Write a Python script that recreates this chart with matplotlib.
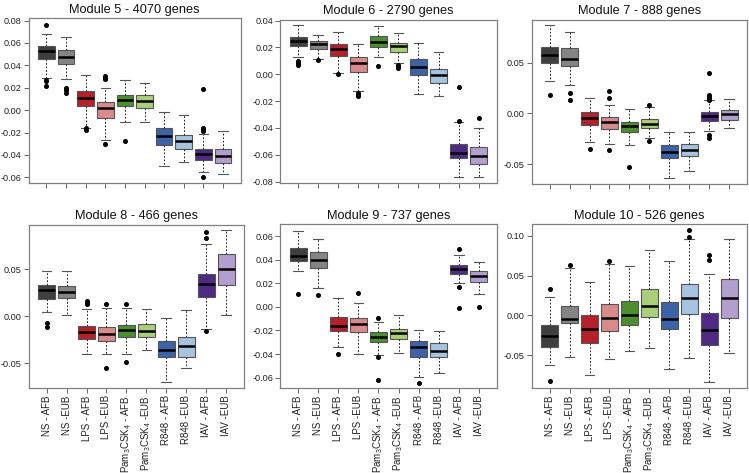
import matplotlib
matplotlib.use("Agg")
import matplotlib.pyplot as plt
from matplotlib.ticker import FuncFormatter

plt.rcParams['font.family'] = ['Liberation Sans', 'DejaVu Sans']
plt.rcParams['mathtext.default'] = 'regular'

labels = ["NS - AFB", "NS -EUB", "LPS - AFB", "LPS -EUB",
          r"Pam$_3$CSK$_4$ - AFB", r"Pam$_3$CSK$_4$ -EUB",
          "R848 - AFB", "R848 -EUB", "IAV - AFB", "IAV -EUB"]
colors = ["#3f3f3f", "#858585", "#b5202a", "#d98a8a", "#4b8f2f",
          "#a9cf7b", "#3c62a8", "#a6c3e0", "#4e2a84", "#b39fcf"]

titles = ["Module 5 - 4070 genes", "Module 6 - 2790 genes", "Module 7 - 888 genes",
          "Module 8 - 466 genes", "Module 9 - 737 genes", "Module 10 - 526 genes"]

# (whislo, q1, med, q3, whishi) per condition
m5_stats = [(0.0287, 0.0457, 0.0528, 0.0576, 0.0684), (0.0278, 0.041, 0.047, 0.054, 0.0654),
            (-0.0158, 0.0039, 0.0107, 0.0173, 0.0316), (-0.0269, -0.0069, 0.0015, 0.0069, 0.020),
            (-0.0104, 0.0033, 0.0093, 0.0137, 0.0269), (-0.0104, 0.0021, 0.0084, 0.0137, 0.0245),
            (-0.0498, -0.0307, -0.0227, -0.0161, -0.0018), (-0.0463, -0.0346, -0.0278, -0.0218, -0.0048),
            (-0.0549, -0.0445, -0.0391, -0.0346, -0.0212), (-0.0567, -0.0472, -0.0409, -0.0346, -0.0188)]
m5_fliers = [[0.0758, 0.027, 0.026, 0.0218], [0.0194, 0.018, 0.0155], [-0.0164, -0.0176],
             [0.0301, 0.029, 0.0278, -0.030], [-0.0275], [], [], [],
             [0.0191, -0.0161, -0.0173, -0.0182, -0.060], []]

m6_stats = [(0.0125, 0.0209, 0.0249, 0.0279, 0.0367), (0.011, 0.019, 0.0224, 0.0247, 0.0292),
            (0.001, 0.0135, 0.019, 0.0224, 0.0317), (-0.0125, 0.002, 0.008, 0.013, 0.0224),
            (0.013, 0.0204, 0.0242, 0.0284, 0.0359), (0.0087, 0.0167, 0.021, 0.0234, 0.0304),
            (-0.0147, -0.0005, 0.0052, 0.011, 0.0234), (-0.0162, -0.0065, -0.0002, 0.004, 0.0162),
            (-0.0768, -0.0626, -0.0584, -0.0519, -0.0354), (-0.0768, -0.0671, -0.0608, -0.0541, -0.0399)]
m6_fliers = [[0.0095, 0.0085, 0.0072], [0.0105], [0.0], [-0.0137, -0.0152, -0.0165], [0.0065],
             [0.0072, 0.006, 0.0045], [], [], [-0.0097, -0.0352], [-0.0324]]

m7_stats = [(0.0319, 0.050, 0.0572, 0.0648, 0.0865), (0.0276, 0.0464, 0.053, 0.0638, 0.0799),
            (-0.0286, -0.0115, -0.0049, 0.001, 0.0151), (-0.0299, -0.0155, -0.0089, -0.0039, 0.0079),
            (-0.0309, -0.0181, -0.0128, -0.0086, 0.0043), (-0.0243, -0.0145, -0.0102, -0.0056, 0.0066),
            (-0.0638, -0.0438, -0.0375, -0.0306, -0.0178), (-0.0569, -0.0418, -0.0359, -0.0303, -0.0178),
            (-0.0171, -0.0076, -0.0023, 0.001, 0.0128), (-0.0145, -0.0063, -0.0003, 0.0036, 0.0138)]
m7_fliers = [[0.0178], [0.0197, 0.0135], [-0.0352], [0.022, 0.0148, -0.0355], [-0.0523],
             [0.0082, -0.0276], [], [], [0.0398, 0.0178, 0.0161, 0.0145, 0.0135, -0.0214, -0.0237], []]

m8_stats = [(0.0046, 0.0181, 0.028, 0.0333, 0.0479), (0.0014, 0.0191, 0.0262, 0.0326, 0.0479),
            (-0.0401, -0.0245, -0.0163, -0.0099, 0.0082), (-0.0401, -0.0259, -0.0188, -0.011, 0.0085),
            (-0.0401, -0.0216, -0.0145, -0.0089, 0.0092), (-0.0358, -0.0216, -0.0152, -0.0078, 0.0074),
            (-0.0702, -0.0436, -0.0358, -0.0262, -0.0018), (-0.0553, -0.0436, -0.0319, -0.0223, 0.0071),
            (-0.0135, 0.0209, 0.034, 0.0447, 0.0769), (0.0014, 0.033, 0.050, 0.066, 0.0912)]
m8_fliers = [[-0.0074, -0.011], [], [0.016, 0.0145, 0.0131], [0.0131, -0.0546], [0.0131, -0.0482],
             [], [], [], [0.0897, 0.0833, -0.0152], []]

m9_stats = [(0.0301, 0.0385, 0.0429, 0.0501, 0.0645), (0.016, 0.033, 0.0397, 0.0468, 0.0572),
            (-0.0338, -0.0206, -0.0158, -0.0082, 0.0073), (-0.040, -0.0214, -0.0149, -0.009, 0.0037),
            (-0.0411, -0.0296, -0.0254, -0.0217, -0.0127), (-0.0394, -0.0273, -0.0225, -0.0186, -0.0065),
            (-0.0594, -0.0428, -0.0338, -0.029, -0.0192), (-0.0563, -0.0428, -0.0372, -0.0304, -0.0206),
            (0.020, 0.0282, 0.0324, 0.0355, 0.0437), (0.011, 0.0211, 0.0265, 0.0307, 0.0377)]
m9_fliers = [[0.0113], [0.0099], [-0.040], [0.0118], [-0.0096, -0.0423, -0.0623], [],
             [-0.0642], [], [0.0487, 0.0166, -0.0006], [0.0003]]

m10_stats = [(-0.0618, -0.0393, -0.0259, -0.0121, 0.0234), (-0.0522, -0.010, -0.0042, 0.0113, 0.0601),
             (-0.0748, -0.0351, -0.0171, 0.0, 0.0414), (-0.0551, -0.020, -0.0029, 0.015, 0.0643),
             (-0.0451, -0.0121, 0.0008, 0.0184, 0.0618), (-0.0414, -0.0025, 0.0121, 0.0334, 0.0827),
             (-0.0677, -0.0175, -0.0042, 0.0171, 0.0689), (-0.0539, 0.0017, 0.0217, 0.0397, 0.0955),
             (-0.0835, -0.0368, -0.0184, 0.0025, 0.0518), (-0.0468, -0.0029, 0.0221, 0.046, 0.0957)]
m10_fliers = [[0.033, -0.0823], [0.0639], [], [0.0685], [], [], [], [0.1068, 0.0984],
              [0.0764, 0.0702], []]

all_stats = [m5_stats, m6_stats, m7_stats, m8_stats, m9_stats, m10_stats]
all_fliers = [m5_fliers, m6_fliers, m7_fliers, m8_fliers, m9_fliers, m10_fliers]
ylims = [(-0.0648, 0.0818), (-0.0808, 0.0404), (-0.0694, 0.0918),
         (-0.0759, 0.0970), (-0.0685, 0.070), (-0.0906, 0.1144)]
yticks = [[-0.06, -0.04, -0.02, 0.0, 0.02, 0.04, 0.06, 0.08],
          [-0.08, -0.06, -0.04, -0.02, 0.0, 0.02, 0.04],
          [-0.05, 0.0, 0.05], [-0.05, 0.0, 0.05],
          [-0.06, -0.04, -0.02, 0.0, 0.02, 0.04, 0.06],
          [-0.05, 0.0, 0.05, 0.10]]

W, H = 749, 473
# axes boxes in pixels: left, top, right, bottom
boxes = [(28.7, 18.5, 240.7, 182.7), (280, 20, 496.7, 182.7), (531.7, 20, 747, 184),
         (28.7, 225, 244, 387.7), (280, 224.3, 497, 387.7), (531.7, 224.3, 747, 387.7)]

fig = plt.figure(figsize=(W / 100, H / 100), dpi=100)
fmt = FuncFormatter(lambda v, p: "%.2f" % v if abs(v) > 1e-9 else "0.00")

for i in range(6):
    l, t, r, b = boxes[i]
    ax = fig.add_axes([l / W, 1 - b / H, (r - l) / W, (b - t) / H])
    bstats = []
    for (lo, q1, med, q3, hi), fl in zip(all_stats[i], all_fliers[i]):
        bstats.append(dict(whislo=lo, q1=q1, med=med, q3=q3, whishi=hi, fliers=fl))
    parts = ax.bxp(bstats, positions=range(1, 11), widths=0.85, patch_artist=True,
                   boxprops=dict(edgecolor="#555555", linewidth=0.8),
                   whiskerprops=dict(color="#222222", linewidth=0.7, linestyle=(0, (1.8, 1.8))),
                   capprops=dict(color="#555555", linewidth=0.8),
                   medianprops=dict(color="black", linewidth=1.8),
                   flierprops=dict(marker="o", markerfacecolor="black", markeredgecolor="black",
                                   markersize=2.6, linestyle="none"))
    for patch, c in zip(parts["boxes"], colors):
        patch.set_facecolor(c)
    for cap in parts["caps"]:
        x0, x1 = cap.get_xdata()
        xm = (x0 + x1) / 2
        cap.set_xdata([xm - 0.24, xm + 0.24])
    ax.set_xlim(0.1, 10.9)
    ax.set_ylim(*ylims[i])
    ax.set_yticks(yticks[i])
    ax.yaxis.set_major_formatter(fmt)
    ax.set_xticks(range(1, 11))
    if i >= 3:
        ax.set_xticklabels(labels, rotation=90, fontsize=7.0, color="#222222")
    else:
        ax.set_xticklabels([])
    ax.tick_params(axis="both", length=3.5, width=0.7, color="#666666",
                   labelcolor="#222222", pad=2)
    ax.tick_params(axis="y", labelsize=6.6, pad=1.5)
    for s in ax.spines.values():
        s.set_color("#808080")
        s.set_linewidth(0.9)
    ax.set_title(titles[i], fontsize=9.2, pad=4, color="#111111")

fig.savefig("out.png", dpi=100)
